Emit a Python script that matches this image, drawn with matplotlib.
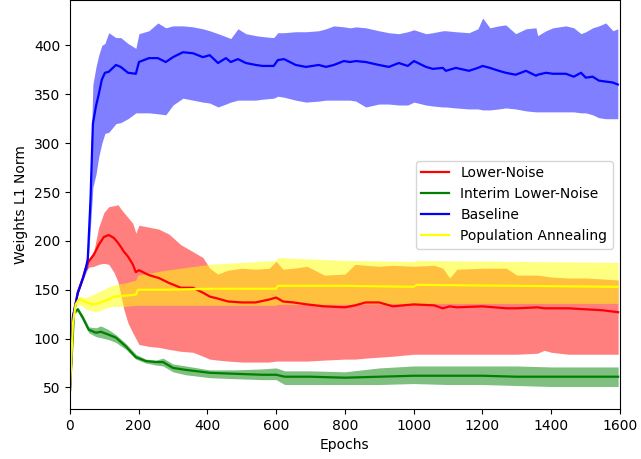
import matplotlib
matplotlib.use("Agg")
import matplotlib.pyplot as plt

# Lower-Noise: epoch, mean, lower band, upper band
ln_epochs = [0, 9, 23, 38, 47, 55, 70, 84, 99, 113, 128, 140, 148, 157, 169, 183, 192, 201,
             230, 259, 288, 323, 358, 387, 407, 430, 460, 500, 540, 580, 600, 620, 650, 690,
             740, 800, 830, 860, 900, 940, 1000, 1060, 1085, 1105, 1126, 1200, 1270, 1300,
             1360, 1380, 1400, 1450, 1500, 1550, 1595]
ln_mean = [45, 122, 147, 162, 173, 179, 186, 196, 204, 206, 203, 198, 194, 189, 184, 176, 168, 170,
           165, 162, 157, 152, 152, 147, 143, 141, 138, 137, 137, 140, 142, 138, 137, 135,
           133, 132, 134, 137, 137, 133, 135, 134, 131, 133, 132, 133, 131, 131,
           132, 131, 131, 131, 130, 129, 127]
ln_low = [45, 120, 145, 160, 170, 173, 174, 176, 177, 176, 168, 158, 145, 130, 116, 106, 100, 94,
          92, 91, 89, 87, 86, 82, 79, 78, 77, 76, 76, 76, 77, 77, 77, 77,
          78, 79, 79, 80, 81, 82, 84, 84, 84, 84, 84, 84, 84, 84,
          85, 88, 86, 84, 84, 84, 84]
ln_high = [45, 124, 149, 164, 176, 182, 190, 214, 229, 235, 236, 237, 233, 229, 224, 218, 208, 216,
           214, 212, 207, 196, 189, 183, 172, 166, 170, 172, 171, 172, 179, 171, 172, 174,
           165, 166, 176, 175, 174, 175, 174, 175, 172, 162, 171, 172, 172, 165,
           165, 164, 163, 162, 162, 161, 160]

# Interim Lower-Noise
iln_epochs = [0, 12, 23, 38, 55, 76, 90, 113, 134, 163, 192, 221, 250, 271, 300, 337, 407,
              480, 560, 600, 625, 700, 800, 900, 1000, 1100, 1200, 1300, 1400, 1500, 1595]
iln_mean = [45, 127, 130, 121, 109, 106, 107, 104, 101, 92, 81, 77, 76, 76, 70, 68, 65,
            64, 63, 63, 61, 61, 60, 61, 62, 62, 62, 61, 61, 61, 61]
iln_low = [45, 125, 128, 118, 106, 102, 101, 99, 96, 89, 79, 75, 73, 72, 66, 63, 60,
           59, 58, 58, 53, 53, 53, 53, 54, 53, 53, 52, 51, 51, 51]
iln_high = [45, 129, 132, 124, 112, 111, 113, 109, 104, 95, 84, 79, 78, 80, 74, 72, 68,
            68, 69, 70, 67, 67, 66, 70, 72, 72, 72, 72, 71, 71, 71]

# Baseline
bl_epochs = [0, 9, 23, 38, 47, 52, 60, 67, 76, 84, 93, 102, 113, 134, 148, 169, 192, 201,
             230, 256, 279, 300, 329, 358, 387, 407, 431, 454, 468, 489, 512, 541, 561, 593,
             605, 623, 657, 687, 724, 745, 768, 797, 815, 832, 861, 899, 928, 957, 983,
             1001, 1036, 1056, 1085, 1094, 1123, 1161, 1187, 1201, 1222, 1248, 1268, 1297,
             1327, 1356, 1361, 1385, 1405, 1443, 1466, 1487, 1501, 1521, 1539, 1559, 1580, 1594]
bl_mean = [45, 122, 147, 162, 173, 181, 242, 320, 338, 350, 365, 372, 373, 380, 378, 372, 371, 383,
           387, 387, 383, 388, 393, 392, 388, 390, 382, 387, 383, 386, 382, 380, 379, 379,
           385, 386, 380, 378, 380, 378, 380, 384, 383, 384, 383, 380, 378, 382, 379,
           384, 378, 376, 377, 374, 377, 374, 377, 379, 377, 374, 372, 370,
           374, 369, 370, 372, 371, 371, 368, 372, 367, 368, 364, 363, 362, 360]
bl_low = [45, 120, 145, 160, 168, 172, 215, 255, 268, 286, 300, 310, 311, 320, 321, 325, 331, 331,
          331, 330, 329, 339, 346, 344, 342, 341, 337, 340, 342, 344, 344, 344, 345, 346,
          348, 347, 344, 342, 343, 344, 344, 344, 344, 343, 337, 340, 340, 339, 339,
          342, 339, 338, 337, 337, 336, 335, 335, 334, 334, 335, 336, 335,
          333, 332, 332, 332, 332, 332, 332, 331, 331, 329, 326, 325, 325, 325]
bl_high = [45, 124, 149, 165, 180, 192, 275, 360, 378, 390, 400, 402, 413, 408, 408, 402, 397, 412,
           415, 423, 418, 420, 420, 419, 417, 415, 412, 409, 407, 417, 412, 410, 409, 408,
           413, 413, 414, 414, 415, 417, 420, 419, 418, 419, 418, 415, 413, 412, 414,
           416, 412, 413, 415, 415, 414, 413, 417, 428, 418, 420, 421, 412,
           417, 418, 410, 415, 418, 420, 418, 412, 414, 418, 420, 423, 415, 417]

# Population Annealing
pa_epochs = [0, 9, 17, 26, 32, 47, 67, 84, 96, 113, 128, 163, 192, 198, 279, 407, 500,
             599, 605, 800, 1000, 1010, 1300, 1595]
pa_mean = [45, 116, 135, 140, 140, 137, 135, 136, 138, 140, 143, 144, 145, 150, 150, 151, 151,
           151, 154, 154, 153, 155, 154, 153]
pa_low = [45, 114, 133, 135, 134, 130, 128, 128, 130, 132, 133, 133, 134, 134, 134, 134, 134,
          134, 135, 135, 136, 136, 136, 136]
pa_high = [45, 118, 138, 143, 143, 142, 145, 148, 150, 153, 155, 157, 160, 165, 170, 176, 178,
           180, 183, 180, 179, 180, 179, 178]

series = [
    ("Lower-Noise", "red", ln_epochs, ln_mean, ln_low, ln_high),
    ("Interim Lower-Noise", "green", iln_epochs, iln_mean, iln_low, iln_high),
    ("Baseline", "blue", bl_epochs, bl_mean, bl_low, bl_high),
    ("Population Annealing", "yellow", pa_epochs, pa_mean, pa_low, pa_high),
]

fig, ax = plt.subplots(figsize=(6.41, 4.59), dpi=100)
fig.subplots_adjust(left=0.109, right=0.967, bottom=0.109, top=0.999)

for name, color, x, mean, low, high in series:
    ax.fill_between(x, low, high, color=color, alpha=0.5, linewidth=0)
    ax.plot(x, mean, color=color, linewidth=1.6, label=name)

ax.set_xlim(0, 1600)
ax.set_ylim(28, 446)
ax.set_xlabel("Epochs")
ax.set_ylabel("Weights L1 Norm")
ax.legend(loc="center right")

plt.savefig("out.png", dpi=100)
